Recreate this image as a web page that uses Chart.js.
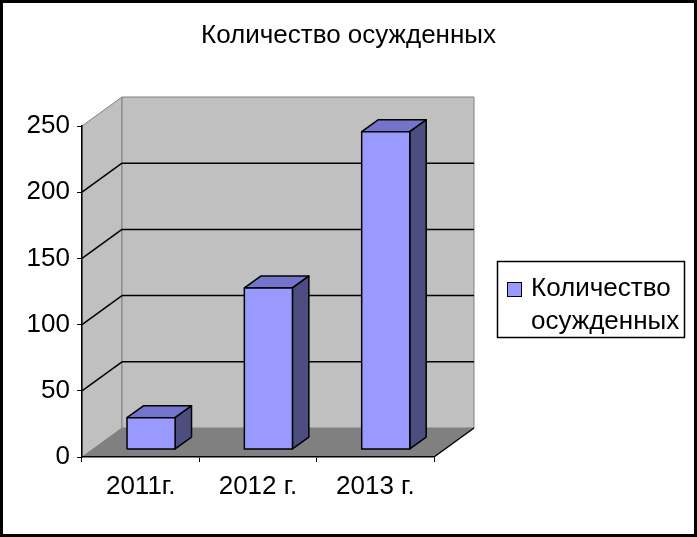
<!DOCTYPE html>
<html>
<head>
<meta charset="utf-8">
<script src="https://cdn.jsdelivr.net/npm/chart.js@4/dist/chart.umd.min.js"></script>
<style>
    html, body { margin: 0; padding: 0; background: #fff; }
    #wrap { width: 697px; height: 537px; }
</style>
</head>
<body>
<div id="wrap"><canvas id="convictChart"></canvas></div>
<script>
const years = ['2011г.', '2012 г.', '2013 г.'];
const convicted = [24, 122, 240];
const seriesName = 'Количество осужденных';
const yTicks = [0, 50, 100, 150, 200, 250];

const FONT = '"Liberation Sans", Arial, sans-serif';
// depth of the 3D box (back wall offset) and bar placement inside it
const DX = 40, DY = -29;
const BAR_SHIFT = 0.26, BAR_DEPTH = 0.41;

function poly(ctx, pts, fill, stroke) {
    ctx.beginPath();
    pts.forEach(([x, y], i) => i ? ctx.lineTo(x, y) : ctx.moveTo(x, y));
    ctx.closePath();
    if (fill) { ctx.fillStyle = fill; ctx.fill(); }
    if (stroke) { ctx.strokeStyle = stroke; ctx.stroke(); }
}

function seg(ctx, x1, y1, x2, y2) {
    ctx.beginPath();
    ctx.moveTo(x1, y1);
    ctx.lineTo(x2, y2);
    ctx.stroke();
}

// === 3D box, bars, legend, frame ===
const box3d = {
    id: 'box3d',
    afterLayout(chart) {
        // center the title over the whole canvas, not only the plot
        const t = chart.titleBlock;
        if (t) { t.left = 0; t.right = chart.width; t.width = chart.width; }
    },
    beforeDraw(chart) {
        const { ctx, width, height, chartArea: a } = chart;
        const y = chart.scales.y;
        ctx.save();
        ctx.fillStyle = '#fff';
        ctx.fillRect(0, 0, width, height);
        ctx.lineWidth = 1;

        // side wall, back wall, floor
        poly(ctx, [[a.left, a.bottom], [a.left, a.top], [a.left + DX, a.top + DY], [a.left + DX, a.bottom + DY]], '#c0c0c0', '#808080');
        poly(ctx, [[a.left + DX, a.top + DY], [a.right + DX, a.top + DY], [a.right + DX, a.bottom + DY], [a.left + DX, a.bottom + DY]], '#c0c0c0', '#808080');
        poly(ctx, [[a.left, a.bottom], [a.right, a.bottom], [a.right + DX, a.bottom + DY], [a.left + DX, a.bottom + DY]], '#808080', null);

        // gridlines on side and back walls
        ctx.strokeStyle = '#000';
        ctx.lineWidth = 1.5;
        yTicks.slice(1, -1).forEach(v => {
            const py = y.getPixelForValue(v);
            seg(ctx, a.left, py, a.left + DX, py + DY);
            seg(ctx, a.left + DX, py + DY, a.right + DX, py + DY);
        });
        seg(ctx, a.right, a.bottom, a.right + DX, a.bottom + DY);
        ctx.restore();
    },
    afterDatasetsDraw(chart) {
        const { ctx } = chart;
        const meta = chart.getDatasetMeta(0);
        const sx = DX * BAR_SHIFT, sy = DY * BAR_SHIFT;
        const bx = DX * BAR_DEPTH, by = DY * BAR_DEPTH;
        ctx.save();
        ctx.lineWidth = 1.5;
        ctx.lineJoin = 'round';
        meta.data.forEach(el => {
            const x0 = el.x - el.width / 2 + sx;
            const x1 = el.x + el.width / 2 + sx;
            const top = el.y + sy;
            const bot = el.base + sy;
            poly(ctx, [[x0, top], [x1, top], [x1 + bx, top + by], [x0 + bx, top + by]], '#7474cc', '#000');
            poly(ctx, [[x1, top], [x1 + bx, top + by], [x1 + bx, bot + by], [x1, bot]], '#4d4d80', '#000');
            poly(ctx, [[x0, top], [x1, top], [x1, bot], [x0, bot]], '#9999ff', '#000');
        });
        ctx.restore();
    },
    afterDraw(chart) {
        const { ctx } = chart;
        const ds = chart.data.datasets[0];
        ctx.save();
        // legend
        ctx.lineWidth = 1.5;
        ctx.strokeStyle = '#000';
        ctx.strokeRect(497.5, 261.5, 187, 76);
        ctx.fillStyle = ds.legendColor;
        ctx.fillRect(507.5, 282.5, 14, 14);
        ctx.lineWidth = 1;
        ctx.strokeRect(507.5, 282.5, 14, 14);
        ctx.fillStyle = '#000';
        ctx.font = '26px ' + FONT;
        ctx.textBaseline = 'alphabetic';
        const words = ds.label.split(' ');
        ctx.fillText(words[0], 531, 296);
        ctx.fillText(words[1], 531, 329);
        // frame
        ctx.lineWidth = 3;
        ctx.strokeRect(1.5, 1.5, 694, 534);
        ctx.restore();
    }
};

new Chart(document.getElementById('convictChart'), {
    type: 'bar',
    data: {
        labels: years,
        datasets: [{
            label: seriesName,
            data: convicted,
            backgroundColor: 'rgba(0,0,0,0)',
            borderWidth: 0,
            legendColor: '#9999ff',
            barPercentage: 0.41,
            categoryPercentage: 1,
        }]
    },
    options: {
        responsive: true,
        maintainAspectRatio: false,
        animation: false,
        layout: { padding: { top: 0, left: 0, right: 263, bottom: 0 } },
        plugins: {
            legend: { display: false },
            tooltip: { enabled: false },
            title: {
                display: true,
                text: seriesName,
                color: '#000',
                font: { family: FONT, size: 26, weight: 'normal', lineHeight: 1.2 },
                padding: { top: 20, bottom: 74.8 }
            }
        },
        scales: {
            x: {
                grid: { display: true, drawOnChartArea: false, drawTicks: true, tickLength: 5, color: '#000', offset: true },
                border: { display: true, color: '#000', width: 1.5 },
                ticks: { color: '#000', font: { family: FONT, size: 26 }, padding: 9, maxRotation: 0 },
                afterFit(scale) { scale.height = 80; }
            },
            y: {
                min: 0,
                max: 250,
                afterBuildTicks(scale) { scale.ticks = yTicks.map(v => ({ value: v })); },
                grid: { display: true, drawOnChartArea: false, drawTicks: true, tickLength: 5, color: '#000' },
                border: { display: true, color: '#000', width: 1.5 },
                ticks: { color: '#000', font: { family: FONT, size: 26 }, padding: 7 },
                afterFit(scale) { scale.width = 82; }
            }
        }
    },
    plugins: [box3d]
});
</script>
</body>
</html>
